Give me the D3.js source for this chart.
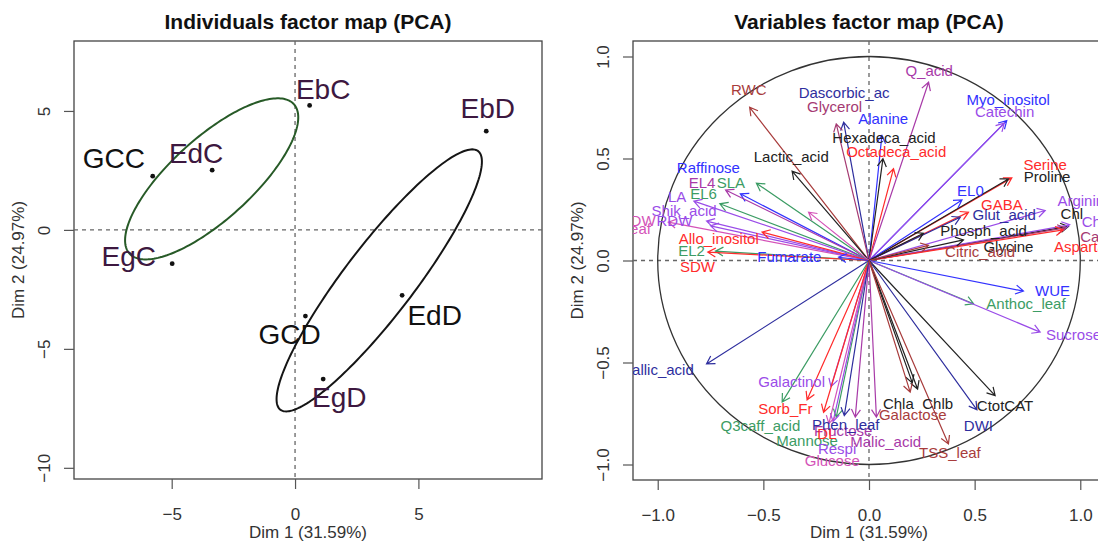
<!DOCTYPE html>
<html><head><meta charset="utf-8">
<script src="https://cdn.jsdelivr.net/npm/d3@7"></script>
<style>
body{margin:0;background:#fff}
svg{display:block;font-family:"Liberation Sans",Arial,Helvetica,sans-serif}
</style>
</head><body>
<svg id="chart" width="1098" height="543"></svg>
<script>
// ---------- Individuals factor map data ----------
const indNames     = ["EbC","EbD","GCC","EdC","EgC","EdD","GCD","EgD"];
const indDim1      = [0.59, 7.75, -5.77, -3.36, -4.98, 4.34, 0.42, 1.14];
const indDim2      = [5.23, 4.15, 2.26, 2.51, -1.42, -2.75, -3.62, -6.27];
const indLabelDim1 = [1.14, 7.81, -7.34, -4.01, -6.74, 5.66, -0.22, 1.79];
const indLabelDim2 = [5.52, 4.71, 2.61, 2.83, -1.52, -4.01, -4.81, -7.45];
const indGroup     = ["C","D","C","C","C","D","D","D"];
const indTone      = ["p","p","k","p","p","k","k","p"];
const groupNames   = ["C","D"];
const indTicksX    = [-5, 0, 5];
const indTicksY    = [-10, -5, 0, 5];

// ---------- Variables factor map data ----------
const varNames = ["RWC","Dascorbic_ac","Glycerol","Alanine","Hexadeca_acid","Octadeca_acid","Q_acid",
 "Myo_inositol","Catechin","Serine","Proline","EL0","GABA","Glut_acid","Arginine","Chl","Choline",
 "Carotenoids","Aspartate","Phosph_acid","Glycine","Citric_acid","Lactic_acid","Raffinose","EL4","SLA",
 "EL6","LA","Shik_acid","LDW","RDW","FW_leaf","Allo_inositol","EL2","SDW","Fumarate","Gallic_acid",
 "Galactinol","Sorb_Fr","Q3caff_acid","Mannose","Respi","Glucose","Fructose","DL","Phen_leaf",
 "Malic_acid","WUE","Anthoc_leaf","Sucrose","CtotCAT","DWI","Chla","Chlb","Galactose","TSS_leaf"];
const varDim1 = [-0.565,-0.120,-0.155,0.061,0.066,0.116,0.282,
 0.652,0.640,0.676,0.660,0.440,0.471,0.432,0.834,0.944,0.950,
 0.930,0.920,0.258,0.447,0.282,-0.364,-0.609,-0.679,-0.533,
 -0.706,-0.829,-0.769,-0.950,-0.750,-0.286,-0.506,-0.727,-0.763,-0.144,-0.769,
 -0.180,-0.293,-0.411,-0.155,-0.170,-0.190,-0.065,-0.215,-0.117,
 0.035,0.731,0.495,0.810,0.597,0.511,0.205,0.230,0.195,0.376];
const varDim2 = [0.751,0.678,0.670,0.613,0.499,0.450,0.874,
 0.686,0.673,0.405,0.400,0.297,0.237,0.212,0.245,0.167,0.175,
 0.160,0.150,0.134,0.101,0.074,0.438,0.327,0.346,0.379,
 0.278,0.291,0.193,0.188,0.170,0.237,0.139,0.046,0.041,0.016,-0.507,
 -0.618,-0.683,-0.694,-0.768,-0.790,-0.800,-0.768,-0.744,-0.760,
 -0.768,-0.150,-0.212,-0.351,-0.662,-0.732,-0.600,-0.630,-0.645,-0.899];
const varLabelDim1 = [-0.569,-0.118,-0.163,0.067,0.071,0.129,0.285,
 0.659,0.642,0.834,0.843,0.480,0.629,0.640,1.022,0.960,1.127,
 1.191,1.028,0.542,0.660,0.526,-0.368,-0.760,-0.790,-0.654,
 -0.783,-0.908,-0.875,-1.089,-0.921,-1.164,-0.711,-0.840,-0.812,-0.377,-1.003,
 -0.366,-0.396,-0.514,-0.293,-0.151,-0.174,-0.122,-0.199,-0.110,
 0.079,0.869,0.743,0.968,0.644,0.518,0.139,0.325,0.207,0.383];
const varLabelDim2 = [0.837,0.822,0.752,0.695,0.600,0.534,0.928,
 0.788,0.727,0.471,0.412,0.343,0.275,0.225,0.294,0.229,0.188,
 0.118,0.065,0.144,0.069,0.041,0.510,0.457,0.379,0.379,
 0.327,0.314,0.245,0.196,0.196,0.155,0.106,0.049,-0.029,0.020,-0.536,
 -0.592,-0.727,-0.812,-0.882,-0.923,-0.980,-0.833,-0.850,-0.804,
 -0.890,-0.147,-0.212,-0.363,-0.711,-0.809,-0.703,-0.703,-0.755,-0.940];
const varTone = ["brown","navy","maroon","blue","black","red","magenta",
 "blue","purple","red","black","blue","red","navy","purple","black","purple",
 "maroon","red","black","black","brown","black","blue","magenta","green",
 "green","purple","purple","pink","purple","pink","red","green","red","blue","navy",
 "purple","red","green","green","purple","pink","magenta","red","navy",
 "magenta","blue","green","purple","black","navy","black","black","brown","brown"];
const varTicks = [-1, -0.5, 0, 0.5, 1];

// ---------- styles ----------
const tones = {red:"#ff2b2b", blue:"#3232ff", navy:"#2e2e9e", green:"#3c9c64", purple:"#9a4ce8",
  magenta:"#a83aa8", pink:"#d452b8", brown:"#a83c3c", maroon:"#a53a72", black:"#222222"};
const indTones = {p:"#3d1840", k:"#111111"};
const groupTones = {C:"#275a27", D:"#151515"};
const ellipseK = 1.24;

const svg = d3.select("#chart");

function panelAxes(g, x, y, xt, yt, fmt, box) {
  g.append("rect").attr("x", box.l).attr("y", box.t).attr("width", box.r - box.l).attr("height", box.b - box.t)
    .attr("fill", "none").attr("stroke", "#444").attr("stroke-width", 1.3);
  const ax = g.append("g").attr("transform", `translate(0,${box.b})`)
    .call(d3.axisBottom(x).tickValues(xt).tickSize(10).tickFormat(fmt));
  ax.select(".domain").remove();
  ax.selectAll(".tick line").attr("stroke", "#555").attr("stroke-width", 1.2);
  ax.selectAll(".tick text").attr("y", 41).attr("dy", null).attr("font-size", 17).attr("fill", "#333")
    .attr("font-family", "Liberation Sans, Arial, sans-serif");
  const ay = g.append("g").attr("transform", `translate(${box.l},0)`)
    .call(d3.axisLeft(y).tickValues(yt).tickSize(10).tickFormat(fmt));
  ay.select(".domain").remove();
  ay.selectAll(".tick line").attr("stroke", "#555").attr("stroke-width", 1.2);
  ay.selectAll(".tick text").attr("transform", "rotate(-90)").attr("text-anchor", "middle")
    .attr("x", 0).attr("y", -24).attr("dy", null).attr("font-size", 17).attr("fill", "#333")
    .attr("font-family", "Liberation Sans, Arial, sans-serif");
  g.append("line").attr("x1", x(0)).attr("x2", x(0)).attr("y1", box.t).attr("y2", box.b)
    .attr("stroke", "#666").attr("stroke-width", 1.3).attr("stroke-dasharray", "4,4");
  g.append("line").attr("x1", box.l).attr("x2", box.r).attr("y1", y(0)).attr("y2", y(0))
    .attr("stroke", "#666").attr("stroke-width", 1.3).attr("stroke-dasharray", "4,4");
  g.append("text").attr("x", (box.l + box.r) / 2).attr("y", 538)
    .attr("text-anchor", "middle").attr("font-size", 17).attr("fill", "#333").text("Dim 1 (31.59%)");
  g.append("text").attr("transform", `translate(${box.l - 50},${(box.t + box.b) / 2}) rotate(-90)`)
    .attr("text-anchor", "middle").attr("font-size", 17).attr("fill", "#333").text("Dim 2 (24.97%)");
}

// ================= Left panel =================
{
  const box = {l: 74, r: 542, t: 41, b: 479};
  const x = d3.scaleLinear().domain([-8.96, 10.01]).range([box.l, box.r]);
  const y = d3.scaleLinear().domain([-10.47, 7.94]).range([box.b, box.t]);
  const g = svg.append("g");
  panelAxes(g, x, y, indTicksX, indTicksY, d3.format("d"), box);
  g.append("text").attr("x", (box.l + box.r) / 2).attr("y", 29).attr("text-anchor", "middle")
    .attr("font-size", 21).attr("font-weight", "bold").attr("fill", "#111").text("Individuals factor map (PCA)");

  groupNames.forEach(gn => {
    const idx = indNames.map((_, i) => i).filter(i => indGroup[i] === gn);
    const n = idx.length;
    const mx = d3.mean(idx, i => indDim1[i]), my = d3.mean(idx, i => indDim2[i]);
    let sxx = 0, syy = 0, sxy = 0;
    idx.forEach(i => { const dx = indDim1[i] - mx, dy = indDim2[i] - my; sxx += dx*dx; syy += dy*dy; sxy += dx*dy; });
    sxx /= (n - 1); syy /= (n - 1); sxy /= (n - 1);
    const tr = (sxx + syy) / 2, r = Math.sqrt(((sxx - syy) / 2) ** 2 + sxy ** 2);
    const l1 = tr + r, l2 = tr - r, th = 0.5 * Math.atan2(2 * sxy, sxx - syy);
    const a = ellipseK * Math.sqrt(l1), b = ellipseK * Math.sqrt(l2);
    const pts = d3.range(0, 200).map(k => {
      const t = k / 200 * 2 * Math.PI;
      return [mx + a*Math.cos(t)*Math.cos(th) - b*Math.sin(t)*Math.sin(th),
              my + a*Math.cos(t)*Math.sin(th) + b*Math.sin(t)*Math.cos(th)];
    });
    g.append("path").attr("d", d3.line().x(d => x(d[0])).y(d => y(d[1])).curve(d3.curveLinearClosed)(pts))
      .attr("fill", "none").attr("stroke", groupTones[gn]).attr("stroke-width", 2);
  });

  g.selectAll("circle.ind").data(indNames).join("circle").attr("class", "ind")
    .attr("cx", (d, i) => x(indDim1[i])).attr("cy", (d, i) => y(indDim2[i])).attr("r", 2.4).attr("fill", "#111");
  g.selectAll("text.indlab").data(indNames).join("text").attr("class", "indlab")
    .attr("x", (d, i) => x(indLabelDim1[i])).attr("y", (d, i) => y(indLabelDim2[i]))
    .attr("text-anchor", "middle").attr("font-size", 28).attr("fill", (d, i) => indTones[indTone[i]]).text(d => d);
}

// ================= Right panel =================
{
  const box = {l: 633, r: 1105, t: 41, b: 480};
  const x = d3.scaleLinear().domain([-1.117, 1.117]).range([box.l, box.r]);
  const y = d3.scaleLinear().domain([-1.076, 1.076]).range([box.b, box.t]);
  const g = svg.append("g");
  panelAxes(g, x, y, varTicks, varTicks, d3.format(".1f"), box);
  g.append("text").attr("x", (box.l + box.r) / 2).attr("y", 29).attr("text-anchor", "middle")
    .attr("font-size", 21).attr("font-weight", "bold").attr("fill", "#111").text("Variables factor map (PCA)");

  svg.append("defs").append("clipPath").attr("id", "clipR").append("rect")
    .attr("x", box.l).attr("y", box.t).attr("width", box.r - box.l).attr("height", box.b - box.t);
  const cg = g.append("g").attr("clip-path", "url(#clipR)");

  cg.append("ellipse").attr("cx", x(0)).attr("cy", y(0)).attr("rx", x(1) - x(0)).attr("ry", y(0) - y(1))
    .attr("fill", "none").attr("stroke", "#333").attr("stroke-width", 1.3);

  const x0 = x(0), y0 = y(0), head = 9, ang = Math.PI / 6;
  varNames.forEach((nm, i) => {
    const col = tones[varTone[i]];
    const tx = x(varDim1[i]), ty = y(varDim2[i]);
    const phi = Math.atan2(ty - y0, tx - x0);
    const p = d3.path();
    p.moveTo(x0, y0); p.lineTo(tx, ty);
    p.moveTo(tx - head * Math.cos(phi - ang), ty - head * Math.sin(phi - ang)); p.lineTo(tx, ty);
    p.lineTo(tx - head * Math.cos(phi + ang), ty - head * Math.sin(phi + ang));
    cg.append("path").attr("d", p.toString()).attr("fill", "none").attr("stroke", col).attr("stroke-width", 1.2);
  });
  cg.selectAll("text.varlab").data(varNames).join("text").attr("class", "varlab")
    .attr("x", (d, i) => x(varLabelDim1[i])).attr("y", (d, i) => y(varLabelDim2[i])).attr("dy", "0.35em")
    .attr("text-anchor", "middle").attr("font-size", 15).attr("fill", (d, i) => tones[varTone[i]]).text(d => d);
}
</script>
</body></html>
